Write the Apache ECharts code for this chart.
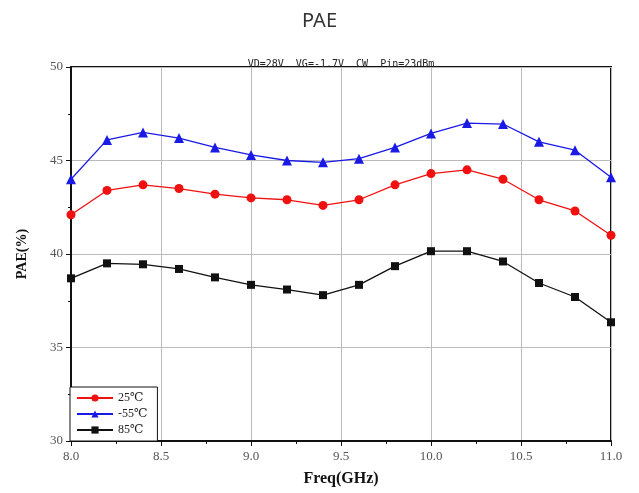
<!DOCTYPE html>
<html>
<head>
<meta charset="utf-8">
<script src="https://cdn.jsdelivr.net/npm/echarts@6/dist/echarts.min.js"></script>
<style>
  html, body { margin: 0; padding: 0; background: #fff; }
  #chart { width: 639px; height: 493px; }
</style>
</head>
<body>
<div id="chart"></div>
<script>
// frequency points (GHz)
var freq = [8.0, 8.2, 8.4, 8.6, 8.8, 9.0, 9.2, 9.4, 9.6, 9.8, 10.0, 10.2, 10.4, 10.6, 10.8, 11.0]

// PAE (%) per temperature
var pae25 = [42.1, 43.4, 43.7, 43.5, 43.2, 43.0, 42.9, 42.6, 42.9, 43.7, 44.3, 44.5, 44.0, 42.9, 42.3, 41.0]
var paeM55 = [44.0, 46.1, 46.5, 46.2, 45.7, 45.3, 45.0, 44.9, 45.1, 45.7, 46.45, 47.0, 46.95, 46.0, 45.55, 44.1]
var pae85 = [38.7, 39.5, 39.45, 39.2, 38.75, 38.35, 38.1, 37.8, 38.35, 39.35, 40.15, 40.15, 39.6, 38.45, 37.7, 36.35]

var seriesNames = ['25℃', '-55℃', '85℃']

function pairs(vals) {
  return freq.map(function (f, i) { return [f, vals[i]] })
}

var chart = echarts.init(document.getElementById('chart'))
var serif = '"Liberation Serif", "DejaVu Serif", serif'

chart.setOption({
  animation: false,
  title: [{
    text: 'PAE',
    left: 'center',
    top: 6,
    textStyle: { fontSize: 20, fontWeight: 'normal', color: '#333', fontFamily: '"Noto Sans", sans-serif' }
  }, {
    text: 'VD=28V  VG=-1.7V  CW  Pin=23dBm',
    left: 336,
    textAlign: 'center',
    top: 54,
    textStyle: { fontSize: 10, fontWeight: 'normal', color: '#222', fontFamily: '"DejaVu Sans Mono", monospace' }
  }],
  grid: {
    left: 71,
    right: 28,
    top: 67,
    bottom: 52,
    show: true,
    borderColor: '#111',
    borderWidth: 2
  },
  legend: {
    left: 70,
    top: 387,
    orient: 'vertical',
    itemGap: 4,
    itemWidth: 36,
    itemHeight: 9,
    padding: [5, 10, 5, 6],
    backgroundColor: '#fff',
    borderColor: '#111',
    borderWidth: 1,
    textStyle: { fontFamily: serif, fontSize: 12, color: '#222' },
    data: seriesNames
  },
  xAxis: {
    type: 'value',
    min: 8.0,
    max: 11.0,
    interval: 0.5,
    name: 'Freq(GHz)',
    nameLocation: 'middle',
    nameGap: 30,
    nameTextStyle: { fontFamily: serif, fontWeight: 'bold', fontSize: 16, color: '#111' },
    axisLine: { lineStyle: { color: '#111', width: 2 } },
    axisTick: { inside: false, length: 5, lineStyle: { color: '#111' } },
    minorTick: { show: true, splitNumber: 2, length: 3, lineStyle: { color: '#111' } },
    axisLabel: {
      fontFamily: serif, fontSize: 13, color: '#555', margin: 9,
      formatter: function (v) { return v.toFixed(1) }
    },
    splitLine: { show: true, lineStyle: { color: '#bbb', width: 1 } }
  },
  yAxis: {
    type: 'value',
    min: 30,
    max: 50,
    interval: 5,
    name: 'PAE(%)',
    nameLocation: 'middle',
    nameGap: 42,
    nameTextStyle: { fontFamily: serif, fontWeight: 'bold', fontSize: 14, color: '#111' },
    axisLine: { show: true, lineStyle: { color: '#111', width: 2 } },
    axisTick: { show: true, length: 5, lineStyle: { color: '#111' } },
    minorTick: { show: true, splitNumber: 2, length: 3, lineStyle: { color: '#111' } },
    axisLabel: { fontFamily: serif, fontSize: 13, color: '#555', margin: 8 },
    splitLine: { show: true, lineStyle: { color: '#bbb', width: 1 } }
  },
  series: [{
    name: seriesNames[0],
    type: 'line',
    data: pairs(pae25),
    symbol: 'circle',
    symbolSize: 9,
    color: '#f01010',
    lineStyle: { width: 1.3 }
  }, {
    name: seriesNames[1],
    type: 'line',
    data: pairs(paeM55),
    symbol: 'triangle',
    symbolSize: 10,
    color: '#1a1ae6',
    lineStyle: { width: 1.3 }
  }, {
    name: seriesNames[2],
    type: 'line',
    data: pairs(pae85),
    symbol: 'rect',
    symbolSize: 8,
    color: '#111',
    lineStyle: { width: 1.3 }
  }]
})
</script>
</body>
</html>
